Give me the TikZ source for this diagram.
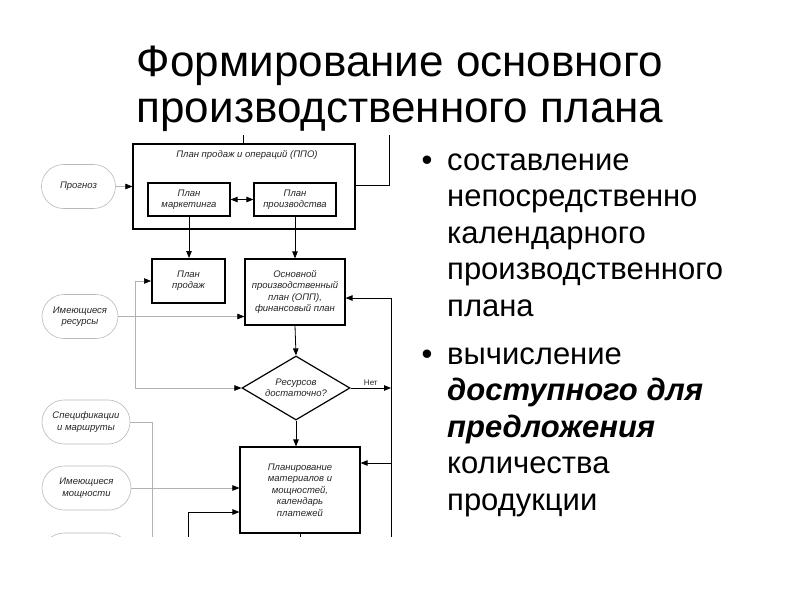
\documentclass[tikz,border=0pt]{standalone}
\usepackage{fontspec}
\setmainfont{Liberation Sans}
\newfontfamily\diagfont{Liberation Sans}
\usetikzlibrary{shapes.geometric,shapes.misc,arrows.meta}
\begin{document}
\begin{tikzpicture}[x=1pt,y=-1pt,
  >={Triangle[length=7pt,width=5.5pt]},
  dtext/.style={font=\diagfont\itshape\fontsize{9.5}{11.4}\selectfont, text=black!85, align=center, inner sep=0pt},
  box/.style={dtext, draw=black, line width=1.2pt},
  pill/.style={dtext, draw=gray!55, rounded rectangle, line width=0.6pt, minimum height=44pt},
  garr/.style={draw=gray!60, line width=0.6pt, arrows={-Triangle[length=7pt,width=5.5pt,black]}},
  gline/.style={draw=gray!60, line width=0.6pt},
  barr/.style={draw=black, line width=0.8pt, ->},
  bline/.style={draw=black, line width=0.8pt},
  titlet/.style={font=\fontsize{44}{47}\selectfont, anchor=base, inner sep=0pt},
  bodyt/.style={font=\fontsize{31}{36.6}\selectfont, anchor=base west, inner sep=0pt},
]
\useasboundingbox (0,0) rectangle (800,600);
\fill[white] (0,0) rectangle (800,600);

% title
\node[titlet] (t1) at (400,76) {Формирование основного};
\node[titlet] (t2) at (400,122) {производственного плана};

% bullets
\node[bodyt, anchor=base] (bu1) at (427,170) {•};
\node[bodyt] (l1) at (447,170) {составление};
\node[bodyt] (l2) at (447,206.6) {непосредственно};
\node[bodyt] (l3) at (447,243.2) {календарного};
\node[bodyt] (l4) at (447,279.8) {производственного};
\node[bodyt] (l5) at (447,316.4) {плана};
\node[bodyt, anchor=base] (bu2) at (427,364) {•};
\node[bodyt] (m1) at (447,364) {вычисление};
\node[bodyt] (m2) at (447,400.6) {\bfseries\itshape доступного для};
\node[bodyt] (m3) at (447,437.2) {\bfseries\itshape предложения};
\node[bodyt] (m4) at (447,473.8) {количества};
\node[bodyt] (m5) at (447,510.4) {продукции};

% diagram
\begin{scope}
\clip (38,135) rectangle (395,536);
\node[box, minimum width=222pt, minimum height=85pt] (ppo) at (244,186.5) {};
\node[dtext, anchor=base] (ppot) at (247,157) {План продаж и операций (ППО)};
\node[box, minimum width=82pt, minimum height=33pt] (mkt) at (189,199.5) {План\\маркетинга};
\node[box, minimum width=82pt, minimum height=33pt] (prd) at (295,199.5) {План\\производства};
\node[box, line width=2pt, minimum width=73pt, minimum height=44pt] (sales) at (188.5,281) {План\\продаж};
\node[box, minimum width=100pt, minimum height=66pt] (opp) at (295,292) {Основной\\производственный\\план (ОПП),\\финансовый план};
\node[dtext, diamond, aspect=1.69, draw=black, line width=1.2pt, minimum width=108pt, minimum height=64pt] (dia) at (296,388) {Ресурсов\\достаточно?};
\node[box, minimum width=120pt, minimum height=86pt] (mat) at (300,490) {Планирование\\материалов и\\мощностей,\\календарь\\платежей};

\node[pill, minimum width=74pt] (prog) at (78.5,186.5) {Прогноз};
\node[pill, minimum width=76pt] (res) at (80,316.5) {Имеющиеся\\ресурсы};
\node[pill, minimum width=88pt] (spec) at (86,422) {Спецификации\\и маршруты};
\node[pill, minimum width=89pt] (mos) at (86.5,488) {Имеющиеся\\мощности};
\node[pill, minimum width=88pt] (p5) at (86,555) {};

% top connectors (cut off)
\coordinate (tr) at (389,130);
\coordinate (tc) at (243,130);
\draw[bline] (ppo.east |- 0,185) -| (tr);
\draw[bline] (tc) -- (tc |- ppo.north);

% inner arrows
\draw[bline, <->] (mkt.east) -- (prd.west);
\draw[barr] (mkt.south) -- (mkt.south |- sales.north);
\draw[barr] (prd.south) -- (opp.north);
\draw[barr] (opp.south) -- (dia.north);
\draw[barr] (dia.south) -- (dia.south |- mat.north);
\draw[bline] (mat.south) -- ++(0,8);

% inputs
\draw[garr] (prog.east) -- (prog.east -| ppo.west);
\coordinate (ja) at (135,281);
\coordinate (jb) at (135,388);
\draw[gline] (ja) -- (jb);
\draw[garr] (ja) -- (sales.west);
\draw[garr] (jb) -- (dia.west);
\draw[garr] (res.east) -- (res.east -| opp.west);
\coordinate (js) at (152,540);
\draw[gline] (spec.east) -| (js);
\draw[garr] (mos.east) -- (mos.east -| mat.west);
\coordinate (jc) at (188,540);
\coordinate (jd) at (188,512);
\draw[barr] (jc) -- (jd) -- (jd -| mat.west);

% right feedback loop
\coordinate (r1) at (391,298);
\coordinate (rn) at (391,388);
\coordinate (rm) at (391,463);
\coordinate (rb) at (391,540);
\draw[bline] (r1) -- (rb);
\draw[barr] (dia.east) -- node[dtext, above=2pt, font=\diagfont\fontsize{8}{9}\selectfont] (net) {Нет} (rn);
\draw[barr] (r1) -- (r1 -| opp.east);
\draw[barr] (rm) -- (rm -| mat.east);
\end{scope}
\end{tikzpicture}
\end{document}
